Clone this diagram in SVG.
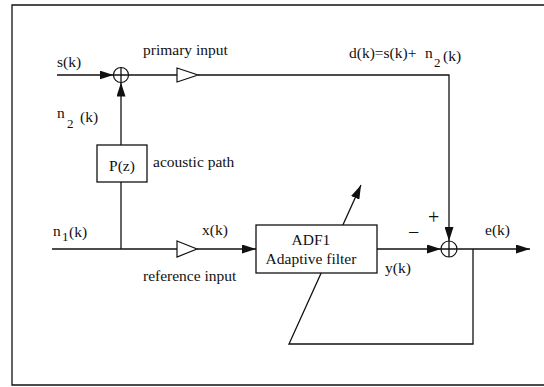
<svg xmlns="http://www.w3.org/2000/svg" width="544" height="387" viewBox="0 0 544 387">
<defs>
<marker id="ah" viewBox="0 0 14 9" refX="14" refY="4.5" markerWidth="14" markerHeight="9" markerUnits="userSpaceOnUse" orient="auto">
<path d="M0,0 L14,4.5 L0,9 Z" fill="#111"/>
</marker>
</defs>
<style>
text{font-family:'Liberation Serif','Times New Roman',Tinos,'DejaVu Serif',serif;font-size:15.5px;fill:#111}
.sub{font-size:13px}
.sign{font-size:20px}
.ln{fill:none;stroke:#111;stroke-width:1.3}
.bx{fill:#fff;stroke:#111;stroke-width:1.3}
.amp{fill:#fff;stroke:#111;stroke-width:1.2}
</style>
<rect width="544" height="387" fill="#fff"/>
<path class="ln" d="M544,5 H12 V385 H544"/>
<g id="connectors">
<path class="ln" d="M57,75 H113.5" marker-end="url(#ah)"/>
<path class="ln" d="M128.5,75 H177"/>
<path class="ln" d="M198,75 H449 V241" marker-end="url(#ah)"/>
<path class="ln" d="M121,145 V82.5" marker-end="url(#ah)"/>
<path class="ln" d="M121,182 V249"/>
<path class="ln" d="M52,249 H177"/>
<path class="ln" d="M197,249 H256" marker-end="url(#ah)"/>
<path class="ln" d="M377,249 H441" marker-end="url(#ah)"/>
<path class="ln" d="M457,249 H530" marker-end="url(#ah)"/>
<path class="ln" d="M473,249 V344 H289 L361,185" marker-end="url(#ah)"/>
</g>
<g id="sum1">
<circle class="amp" cx="121" cy="75" r="7.5"/>
<path class="ln" d="M113.5,75 H128.5 M121,67.5 V82.5"/>
</g>
<g id="amp1"><path class="amp" d="M177,68 L198,75 L177,82 Z"/></g>
<g id="amp2"><path class="amp" d="M177,241 L197,249 L177,257 Z"/></g>
<g id="pz">
<rect class="bx" x="97" y="145" width="50" height="37"/>
<text x="122" y="171" text-anchor="middle">P(z)</text>
</g>
<g id="adf">
<rect class="bx" x="256" y="225" width="121" height="48"/>
<text x="311" y="245" text-anchor="middle">ADF1</text>
<text x="311" y="264" text-anchor="middle">Adaptive filter</text>
</g>
<g id="sum2">
<circle class="amp" cx="449" cy="249" r="8"/>
<path class="ln" d="M441,249 H457 M449,241 V257"/>
</g>
<g id="labels">
<text x="57" y="67">s(k)</text>
<text x="143" y="55">primary input</text>
<text x="349" y="58">d(k)=s(k)+</text>
<text x="425" y="58">n</text>
<text x="434" y="67" class="sub">2</text>
<text x="443" y="61">(k)</text>
<text x="57" y="118">n</text>
<text x="67" y="128" class="sub">2</text>
<text x="80" y="122">(k)</text>
<text x="153" y="167">acoustic path</text>
<text x="53" y="236">n</text>
<text x="62" y="241" class="sub">1</text>
<text x="69" y="237">(k)</text>
<text x="202" y="235">x(k)</text>
<text x="143" y="281">reference input</text>
<text x="385" y="273">y(k)</text>
<text x="485" y="235">e(k)</text>
<text x="408" y="239" class="sign">−</text>
<text x="428" y="224" class="sign">+</text>
</g>
</svg>
